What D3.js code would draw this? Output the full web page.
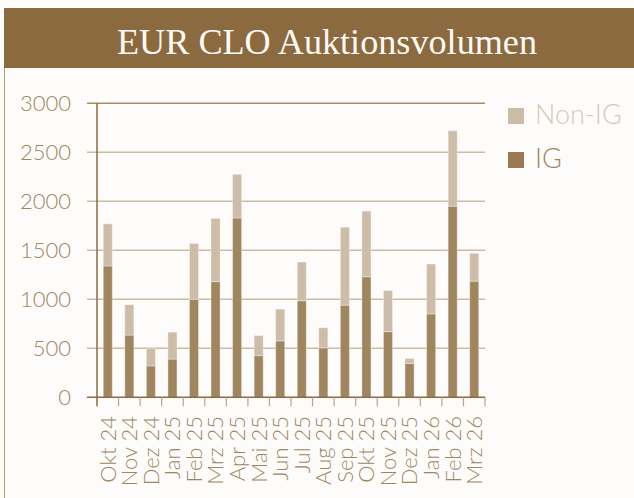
<!DOCTYPE html>
<html>
<head>
<meta charset="utf-8">
<script src="https://cdn.jsdelivr.net/npm/d3@7"></script>
<style>
  body { margin: 0; background: #fdfcfb; }
  svg { display: block; }
  .lbl { font-family: Lato, "Open Sans", sans-serif; font-weight: 300; fill: #a08660; }
</style>
</head>
<body>
<svg width="634" height="498"></svg>
<script>
var months = ["Okt 24","Nov 24","Dez 24","Jan 25","Feb 25","Mrz 25","Apr 25","Mai 25","Jun 25",
              "Jul 25","Aug 25","Sep 25","Okt 25","Nov 25","Dez 25","Jan 26","Feb 26","Mrz 26"];
var ig    = [1340, 635, 320, 390, 1000, 1180, 1830, 425, 575, 985, 505, 940, 1230, 670, 345, 850, 1950, 1185];
var nonIg = [430, 310, 180, 275, 570, 645, 445, 205, 325, 395, 205, 795, 670, 420, 50, 510, 770, 285];
var yTicks = [0, 500, 1000, 1500, 2000, 2500, 3000];

var svg = d3.select("svg");

// title bar
svg.append("rect").attr("x", 4).attr("y", 8).attr("width", 630).attr("height", 60).attr("fill", "#8b6a40");
svg.append("text")
  .attr("x", 327).attr("y", 54)
  .attr("text-anchor", "middle")
  .attr("font-family", "'Liberation Serif', 'DejaVu Serif', serif")
  .attr("font-size", 36)
  .attr("textLength", 420).attr("lengthAdjust", "spacingAndGlyphs")
  .attr("fill", "#fdfaf5")
  .text("EUR CLO Auktionsvolumen");
// left border
svg.append("line").attr("x1", 4.5).attr("x2", 4.5).attr("y1", 68).attr("y2", 498)
  .attr("stroke", "#b89c74").attr("stroke-width", 1);

var pLeft = 97, pRight = 485, pTop = 103.3, pBottom = 397.3;

var x = d3.scaleBand().domain(months).range([pLeft, pRight]).paddingInner(0.58).paddingOuter(0.29);
var y = d3.scaleLinear().domain([0, 3000]).range([pBottom, pTop]);

var g = svg.append("g");

// gridlines
g.selectAll(".grid").data(yTicks.slice(1)).enter().append("line")
  .attr("x1", pLeft - 10).attr("x2", pRight)
  .attr("y1", d => y(d)).attr("y2", d => y(d))
  .attr("stroke", d => d == 3000 ? "#a88d66" : "#cbbba3")
  .attr("stroke-width", 1.5);

// y labels
g.selectAll(".ylab").data(yTicks).enter().append("text")
  .attr("class", "lbl")
  .attr("x", 71).attr("y", d => y(d))
  .attr("dy", "0.36em")
  .attr("text-anchor", "end")
  .attr("font-size", 22)
  .text(d => d);

// stacked bars
var data = months.map((m, i) => ({ m: m, ig: ig[i], non: nonIg[i] }));

g.selectAll(".ig").data(data).enter().append("rect")
  .attr("x", d => x(d.m)).attr("width", x.bandwidth())
  .attr("y", d => y(d.ig)).attr("height", d => y(0) - y(d.ig))
  .attr("fill", "#a0865f").attr("stroke", "#ffffff").attr("stroke-opacity", 0.35).attr("stroke-width", 1);

g.selectAll(".non").data(data).enter().append("rect")
  .attr("x", d => x(d.m)).attr("width", x.bandwidth())
  .attr("y", d => y(d.ig + d.non)).attr("height", d => y(d.ig) - y(d.ig + d.non))
  .attr("fill", "#ccbca8").attr("stroke", "#ffffff").attr("stroke-opacity", 0.35).attr("stroke-width", 1);

// axes lines
g.append("line").attr("x1", pLeft).attr("x2", pLeft).attr("y1", pTop).attr("y2", pBottom + 9)
  .attr("stroke", "#8b6a40").attr("stroke-width", 1.5);
g.append("line").attr("x1", pLeft - 10).attr("x2", pRight).attr("y1", pBottom).attr("y2", pBottom)
  .attr("stroke", "#8b6a40").attr("stroke-width", 1.5);

// category boundary ticks
var bounds = months.map(m => x(m) - x.step() * x.paddingInner() / 2).concat([pRight]);
g.selectAll(".xt").data(bounds.slice(1)).enter().append("line")
  .attr("x1", d => d).attr("x2", d => d)
  .attr("y1", pBottom).attr("y2", pBottom + 9)
  .attr("stroke", "#b9a487").attr("stroke-width", 1.2);

// x labels
g.selectAll(".xlab").data(months).enter().append("text")
  .attr("class", "lbl")
  .attr("font-size", 22)
  .attr("text-anchor", "end")
  .attr("transform", d => "translate(" + (x(d) + x.bandwidth() / 2) + ",416) rotate(-90)")
  .attr("dy", "0.36em")
  .text(d => d);

// legend
var legend = [{ name: "Non-IG", sq: "#ccbca8", txt: "#d6c9b8", y: 108 }, { name: "IG", sq: "#9b7a51", txt: "#9e8460", y: 152 }];
var lg = svg.selectAll(".leg").data(legend).enter().append("g");
lg.append("rect").attr("x", 508).attr("y", d => d.y).attr("width", 16).attr("height", 16).attr("fill", d => d.sq);
lg.append("text").attr("class", "lbl")
  .attr("x", 535).attr("y", d => d.y + 16)
  .attr("font-size", 27)
  .style("fill", d => d.txt)
  .text(d => d.name);
</script>
</body>
</html>
